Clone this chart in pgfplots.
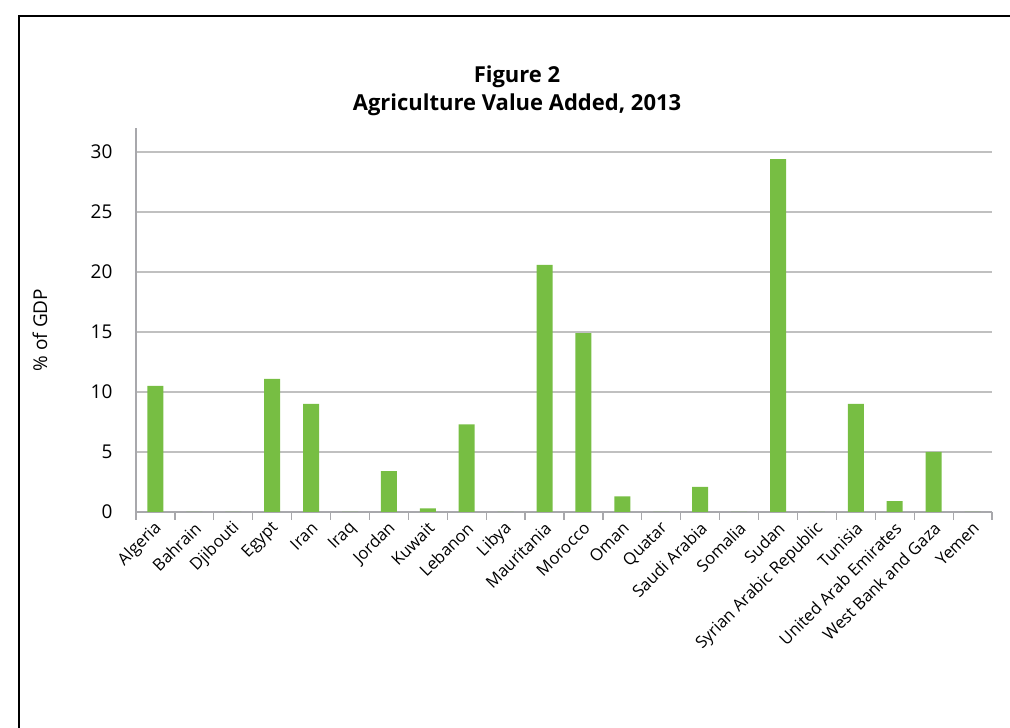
\documentclass[border=0pt]{standalone}
\usepackage{pgfplots}
\pgfplotsset{compat=1.18}
\usepackage{fontspec}
\setmainfont{Open Sans}
\definecolor{bargreen}{HTML}{77BE43}
\definecolor{gridgray}{HTML}{C0C0C0}
\definecolor{axisgray}{HTML}{A8A8AC}
\begin{document}
\begin{tikzpicture}
\useasboundingbox (0,0) rectangle (505pt,363.5pt);
\draw[line width=1pt,black] (9.5pt,-2pt) -- (9.5pt,355.5pt) -- (507pt,355.5pt);
\node[font=\bfseries\fontsize{11}{14}\selectfont, align=center] at (258.5pt,318pt) {Figure 2\\Agriculture Value Added, 2013};
\node[rotate=90, font=\fontsize{9.5}{11}\selectfont] at (20pt,198.5pt) {\% of GDP};
\begin{axis}[
  at={(68pt,107.5pt)}, anchor=south west,
  scale only axis, width=428pt, height=192pt,
  xmin=-0.5, xmax=21.5, ymin=0, ymax=32,
  ytick={0,5,...,30},
  ymajorgrids, grid style={gridgray, line width=0.8pt},
  axis x line*=bottom, axis y line*=left,
  axis line style={axisgray, line width=1.1pt},
  xtick={0,...,21},
  xticklabels={Algeria,Bahrain,Djibouti,Egypt,Iran,Iraq,Jordan,Kuwait,Lebanon,Libya,Mauritania,Morocco,Oman,Quatar,Saudi Arabia,Somalia,Sudan,Syrian Arabic Republic,Tunisia,United Arab Emirates,West Bank and Gaza,Yemen},
  xticklabel style={rotate=45, anchor=east, font=\fontsize{8.3}{9}\selectfont, xshift=3pt, yshift=-3pt},
  major x tick style={draw=none},
  minor xtick={-0.5,0.5,...,21.5},
  minor x tick style={axisgray, line width=0.6pt},
  minor tick length=4pt,
  tick align=outside,
  major y tick style={draw=none},
  yticklabel style={font=\fontsize{9.5}{10}\selectfont, xshift=-4pt},
  /pgf/number format/assume math mode=true,
  ybar, bar width=8pt,
  clip=false,
]
\addplot[fill=bargreen, draw=none] coordinates {
(0,10.5) (1,0) (2,0) (3,11.1) (4,9.0) (5,0) (6,3.4) (7,0.3) (8,7.3) (9,0) (10,20.6) (11,14.9) (12,1.3) (13,0) (14,2.1) (15,0) (16,29.4) (17,0) (18,9.0) (19,0.9) (20,5.0) (21,0)
};
\end{axis}
\end{tikzpicture}
\end{document}
